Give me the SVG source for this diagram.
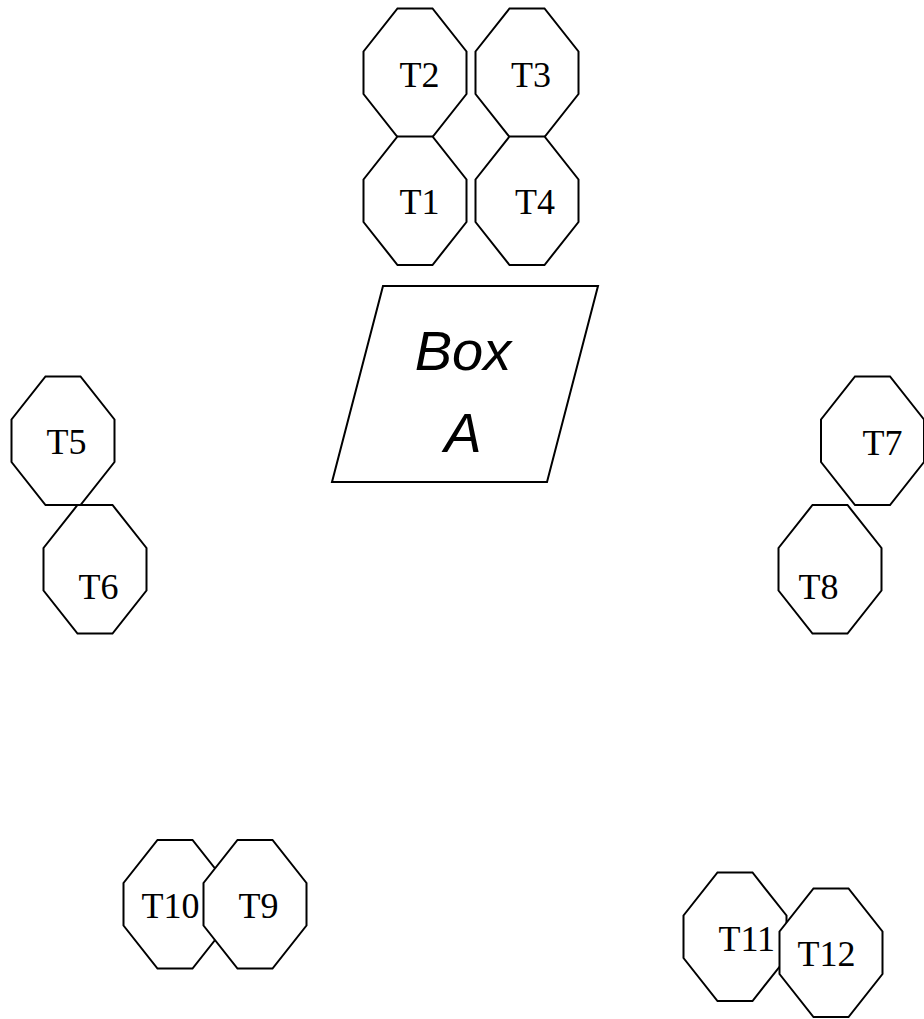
<svg xmlns="http://www.w3.org/2000/svg" xmlns:xlink="http://www.w3.org/1999/xlink" width="924" height="1019" viewBox="0 0 924 1019">
<style>
.oct{fill:#fff;stroke:#000;stroke-width:2;stroke-linejoin:miter}
.lbl{font-family:"Liberation Serif","Times New Roman",serif;font-size:36px;fill:#000}
.box{fill:#fff;stroke:#000;stroke-width:2}
.boxlbl{font-family:"Liberation Sans",Arial,sans-serif;font-size:56px;font-style:italic;fill:#000;text-anchor:middle}
</style>
<defs>
<polygon id="oct" points="34,0 69,0 103,43 103,85.5 69,128.5 34,128.5 0,85.5 0,43"/>
</defs>
<rect width="924" height="1019" fill="#fff"/>
<g id="connectors"></g>
<g id="boxA">
<polygon class="box" points="383,286 598,286 547,482 332,482"/>
<text class="boxlbl" x="463" y="370">Box</text>
<text class="boxlbl" x="463" y="452">A</text>
</g>
<g id="T2"><use xlink:href="#oct" class="oct" x="363.5" y="8.5"/><text class="lbl" x="399.4" y="87">T2</text></g>
<g id="T1"><use xlink:href="#oct" class="oct" x="363.5" y="136.5"/><text class="lbl" x="399.4" y="214">T1</text></g>
<g id="T3"><use xlink:href="#oct" class="oct" x="475.5" y="8.5"/><text class="lbl" x="511" y="87">T3</text></g>
<g id="T4"><use xlink:href="#oct" class="oct" x="475.5" y="136.5"/><text class="lbl" x="515" y="214">T4</text></g>
<g id="T5"><use xlink:href="#oct" class="oct" x="11.5" y="376.5"/><text class="lbl" x="46.4" y="454">T5</text></g>
<g id="T6"><use xlink:href="#oct" class="oct" x="43.5" y="505"/><text class="lbl" x="78.4" y="599">T6</text></g>
<g id="T7"><use xlink:href="#oct" class="oct" x="821" y="376.5"/><text class="lbl" x="862.4" y="455">T7</text></g>
<g id="T8"><use xlink:href="#oct" class="oct" x="778.5" y="505"/><text class="lbl" x="798.4" y="599">T8</text></g>
<g id="T10"><use xlink:href="#oct" class="oct" x="123.5" y="840"/><text class="lbl" x="141.4" y="918">T10</text></g>
<g id="T9"><use xlink:href="#oct" class="oct" x="203.5" y="840"/><text class="lbl" x="238.4" y="918">T9</text></g>
<g id="T11"><use xlink:href="#oct" class="oct" x="683.5" y="872.5"/><text class="lbl" x="718.4" y="951">T11</text></g>
<g id="T12"><use xlink:href="#oct" class="oct" x="779.5" y="888.5"/><text class="lbl" x="797.4" y="966">T12</text></g>
</svg>
